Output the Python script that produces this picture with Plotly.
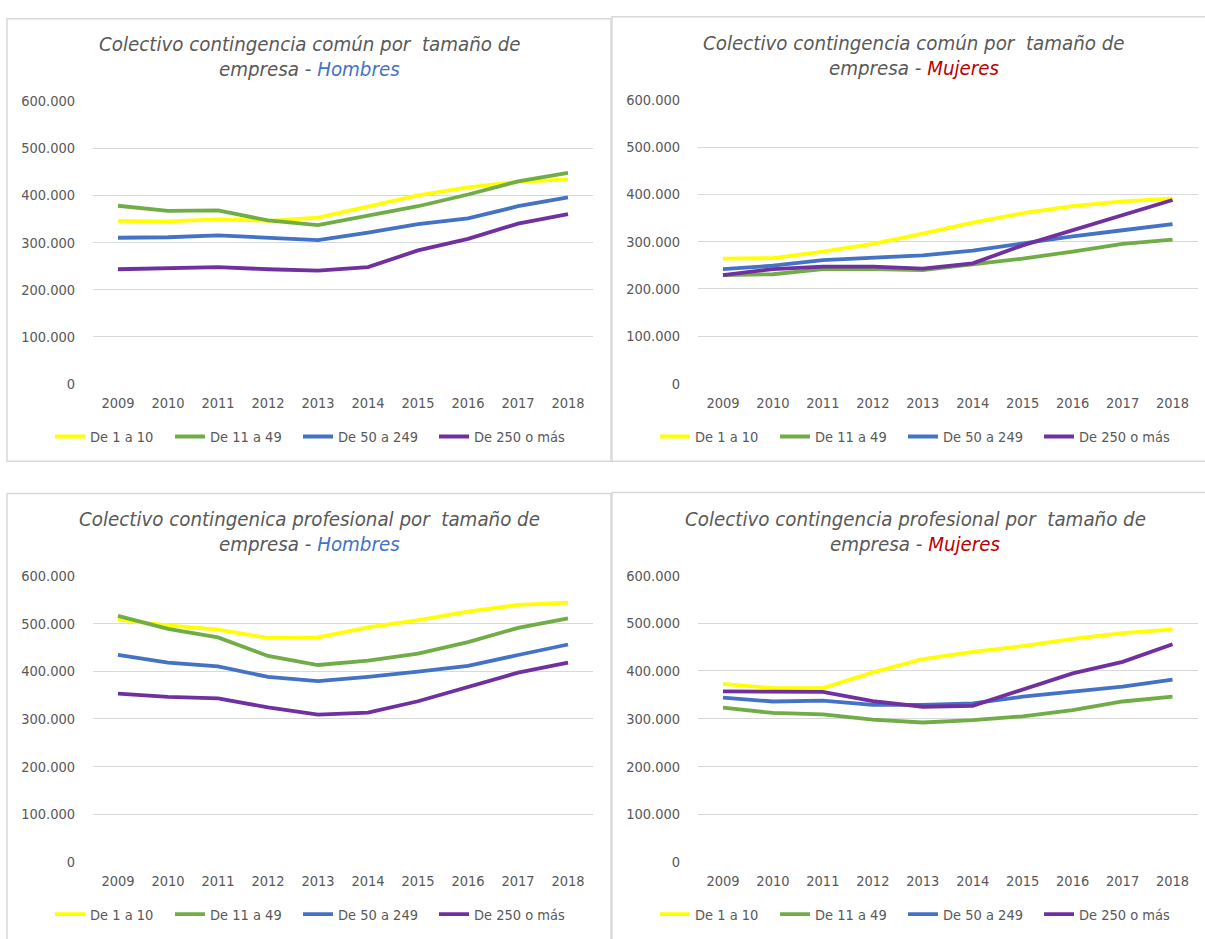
import plotly.graph_objects as go
from plotly.subplots import make_subplots

years = ["2009", "2010", "2011", "2012", "2013", "2014", "2015", "2016", "2017", "2018"]
series_names = ["De 1 a 10", "De 11 a 49", "De 50 a 249", "De 250 o más"]
series_colors = ["#FFFF00", "#70AD47", "#4472C4", "#7030A0"]

# Colectivo contingencia común - Hombres
comun_hombres_1_10 = [346000, 345000, 349000, 346000, 353000, 377000, 400000, 417000, 429000, 434000]
comun_hombres_11_49 = [378000, 367000, 368000, 347000, 337000, 356000, 377000, 402000, 430000, 448000]
comun_hombres_50_249 = [310000, 311000, 315000, 309000, 305000, 321000, 339000, 351000, 377000, 396000]
comun_hombres_250 = [243000, 246000, 247500, 243000, 240000, 247500, 283000, 307500, 340000, 360000]

# Colectivo contingencia común - Mujeres
comun_mujeres_1_10 = [264000, 265000, 279000, 295000, 317000, 340000, 360000, 375000, 385000, 391000]
comun_mujeres_11_49 = [229000, 231000, 242000, 242000, 240000, 252000, 264000, 279000, 295000, 304000]
comun_mujeres_50_249 = [242000, 249000, 261000, 266000, 271000, 281000, 297000, 311000, 324000, 337000]
comun_mujeres_250 = [229000, 242000, 247000, 247000, 243000, 254000, 292000, 324000, 354000, 388000]

# Colectivo contingencia profesional - Hombres
prof_hombres_1_10 = [508000, 496000, 487000, 470000, 471000, 492000, 507000, 525000, 539000, 544000]
prof_hombres_11_49 = [516000, 489000, 471000, 432000, 413000, 422000, 437000, 461000, 491000, 511000]
prof_hombres_50_249 = [434000, 418000, 410000, 388000, 379000, 388000, 399000, 411000, 434000, 456000]
prof_hombres_250 = [353000, 346000, 343000, 324000, 309000, 313000, 337000, 368000, 397000, 418000]

# Colectivo contingencia profesional - Mujeres
prof_mujeres_1_10 = [373000, 364000, 364000, 397000, 425000, 440000, 452000, 467000, 479000, 487000]
prof_mujeres_11_49 = [323000, 312000, 309000, 298000, 292000, 297000, 305000, 318000, 336000, 346000]
prof_mujeres_50_249 = [344000, 336000, 338000, 329000, 329000, 332000, 346000, 356000, 367000, 382000]
prof_mujeres_250 = [357000, 356000, 356000, 337000, 325000, 327000, 361000, 395000, 419000, 456000]

panels = [
    ("Colectivo contingencia común por\u00a0 tamaño de", "Hombres", "#4472C4",
     [comun_hombres_1_10, comun_hombres_11_49, comun_hombres_50_249, comun_hombres_250]),
    ("Colectivo contingencia común por\u00a0 tamaño de", "Mujeres", "#C00000",
     [comun_mujeres_1_10, comun_mujeres_11_49, comun_mujeres_50_249, comun_mujeres_250]),
    ("Colectivo contingenica profesional por\u00a0 tamaño de", "Hombres", "#4472C4",
     [prof_hombres_1_10, prof_hombres_11_49, prof_hombres_50_249, prof_hombres_250]),
    ("Colectivo contingencia profesional por\u00a0 tamaño de", "Mujeres", "#C00000",
     [prof_mujeres_1_10, prof_mujeres_11_49, prof_mujeres_50_249, prof_mujeres_250]),
]

W, H = 1205, 939
FONT = "DejaVu Sans Condensed, DejaVu Sans"
GRAY = "#595959"

# pixel layout per panel: plot area, title lines, legend anchor, frame
boxes = [
    dict(px=(93, 593), py=(95, 382), tx=310, ty=(37, 62), lx=50, ly=436, box=(7, 611, 11, 461)),
    dict(px=(698, 1197.5), py=(93.3, 382), tx=914, ty=(36, 61), lx=655, ly=436, box=(612, 1215, 9, 461)),
    dict(px=(93, 593), py=(577.7, 868.7), tx=310, ty=(520, 545), lx=50, ly=922, box=(7, 611, 494, 960)),
    dict(px=(698, 1197.5), py=(577.3, 868.7), tx=915, ty=(520, 545), lx=655, ly=922, box=(612, 1215, 493, 960)),
]
entry_widths = [75, 83, 91, 100]

fig = make_subplots(rows=2, cols=2)

legend_ids = ["legend", "legend2", "legend3", "legend4"]
cells = [(1, 1), (1, 2), (2, 1), (2, 2)]

for i, (line1, who, who_color, data) in enumerate(panels):
    r, c = cells[i]
    for name, color, vals, ew in zip(series_names, series_colors, data, entry_widths):
        fig.add_trace(go.Scatter(
            x=years, y=vals, name=name, mode="lines",
            line=dict(color=color, width=3.8),
            legend=legend_ids[i], legendwidth=ew,
        ), row=r, col=c)

    b = boxes[i]
    xa = "xaxis" if i == 0 else f"xaxis{i + 1}"
    ya = "yaxis" if i == 0 else f"yaxis{i + 1}"
    fig.layout[xa].update(
        domain=[b["px"][0] / W, b["px"][1] / W],
        showgrid=False, showline=False, zeroline=False,
        ticks="outside", ticklen=6, tickcolor="rgba(0,0,0,0)",
        tickfont=dict(family=FONT, size=14.5, color=GRAY),
        range=[-0.5, 9.5],
    )
    fig.layout[ya].update(
        domain=[1 - b["py"][1] / H, 1 - b["py"][0] / H],
        range=[0, 600000],
        tickvals=[0, 100000, 200000, 300000, 400000, 500000, 600000],
        tickformat=",d",
        showgrid=True, gridcolor="#D9D9D9", gridwidth=1,
        zeroline=False, showline=False,
        ticks="outside", ticklen=14, tickcolor="rgba(0,0,0,0)",
        tickfont=dict(family=FONT, size=14.5, color=GRAY),
    )

    fig.add_annotation(
        xref="paper", yref="paper",
        x=b["tx"] / W, y=1 - b["ty"][0] / H,
        xanchor="center", yanchor="middle",
        text=f"<i>{line1}</i>",
        showarrow=False,
        font=dict(family=FONT, size=20.3, color=GRAY),
    )
    fig.add_annotation(
        xref="paper", yref="paper",
        x=b["tx"] / W, y=1 - b["ty"][1] / H,
        xanchor="center", yanchor="middle",
        text=f"<i>empresa - <span style='color:{who_color}'>{who}</span></i>",
        showarrow=False,
        font=dict(family=FONT, size=20.3, color=GRAY),
    )

    x0, x1, y0, y1 = b["box"]
    fig.add_shape(
        type="rect", xref="paper", yref="paper",
        x0=x0 / W, x1=x1 / W, y0=1 - y1 / H, y1=1 - y0 / H,
        line=dict(color="#D9D9D9", width=1.5), fillcolor="rgba(0,0,0,0)",
        layer="below",
    )

    fig.layout[legend_ids[i]] = dict(
        orientation="h", x=b["lx"] / W, y=1 - b["ly"] / H,
        xanchor="left", yanchor="middle",
        font=dict(family=FONT, size=14.5, color=GRAY),
        bgcolor="rgba(0,0,0,0)", itemclick=False,
    )

fig.update_layout(
    width=W, height=H,
    margin=dict(l=0, r=0, t=0, b=0),
    paper_bgcolor="white", plot_bgcolor="white",
    separators=",.",
    font=dict(family=FONT, color=GRAY),
    showlegend=True,
)

fig.write_html(
    "out.html",
    config={"displayModeBar": False},
    post_script="document.body.style.margin='0';document.body.style.overflow='hidden';",
)
